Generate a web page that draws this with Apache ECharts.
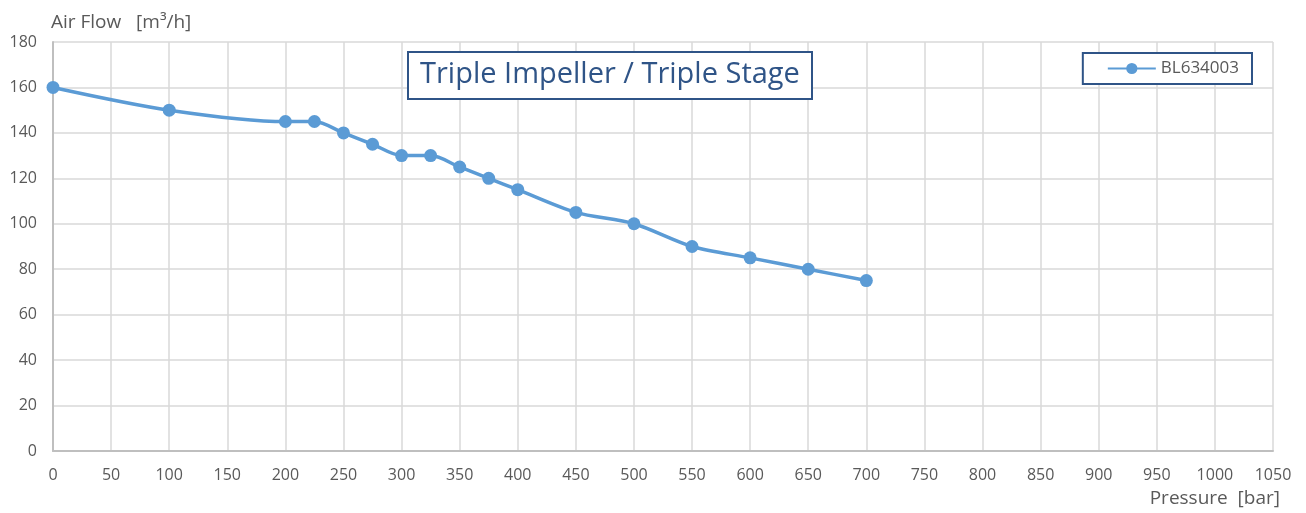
<!DOCTYPE html>
<html><head><meta charset="utf-8">
<script src="https://cdn.jsdelivr.net/npm/echarts@6/dist/echarts.min.js"></script>
<style>html,body{margin:0;padding:0;background:#fff}#c{width:1306px;height:513px}</style>
</head><body><div id="c"></div>
<script>
const pressure = [0, 100, 200, 225, 250, 275, 300, 325, 350, 375, 400, 450, 500, 550, 600, 650, 700];
const airFlow = [160, 150, 145, 145, 140, 135, 130, 130, 125, 120, 115, 105, 100, 90, 85, 80, 75];
const seriesName = 'BL634003';
const chartTitle = 'Triple Impeller / Triple Stage';
const yName = 'Air Flow   [m³/h]';
const xName = 'Pressure  [bar]';

const chart = echarts.init(document.getElementById('c'));
const font = '"Open Sans", "Noto Sans", sans-serif';
chart.setOption({
  animation: false,
  textStyle: { fontFamily: font },
  title: {
    text: chartTitle,
    left: 408, top: 52,
    padding: [8, 12, 10, 12],
    borderColor: '#2f5487', borderWidth: 2,
    backgroundColor: '#fff',
    textStyle: { color: '#2f5487', fontSize: 29, fontWeight: 'normal', fontFamily: font }
  },
  legend: {
    right: 54, top: 53,
    padding: [7, 13, 7, 24],
    borderColor: '#2f5487', borderWidth: 2,
    backgroundColor: '#fff',
    itemWidth: 48, itemHeight: 14, itemGap: 4,
    textStyle: { color: '#595959', fontSize: 17, padding: [0, 0, 0, 0] },
    data: [seriesName]
  },
  grid: { left: 53, right: 33, top: 42, bottom: 62 },
  xAxis: {
    type: 'value', min: 0, max: 1050, interval: 50,
    name: xName, nameLocation: 'end',
    nameGap: 0,
    nameTextStyle: { color: '#595959', fontSize: 19, align: 'right', verticalAlign: 'top', padding: [38, -7, 0, 0] },
    axisLine: { show: true, lineStyle: { color: '#bfbfbf', width: 2 } },
    axisTick: { show: false },
    axisLabel: { color: '#595959', fontSize: 16, margin: 16, formatter: v => String(v) },
    splitLine: { show: true, lineStyle: { color: '#d9d9d9', width: 1.5 } }
  },
  yAxis: {
    type: 'value', min: 0, max: 180, interval: 20,
    name: yName, nameLocation: 'end', nameGap: 10,
    nameTextStyle: { color: '#595959', fontSize: 19, align: 'left', padding: [0, 0, 0, -2] },
    axisLine: { show: true, lineStyle: { color: '#bfbfbf', width: 2 } },
    axisTick: { show: false },
    axisLabel: { color: '#595959', fontSize: 16, margin: 16, formatter: v => String(v) },
    splitLine: { show: true, lineStyle: { color: '#d9d9d9', width: 1.5 } }
  },
  series: [{
    name: seriesName,
    type: 'line',
    smooth: 0.3,
    data: pressure.map((p, i) => [p, airFlow[i]]),
    symbol: 'circle', symbolSize: 13,
    lineStyle: { color: '#5b9bd5', width: 3.5 },
    itemStyle: { color: '#5b9bd5' }
  }]
});
</script></body></html>
